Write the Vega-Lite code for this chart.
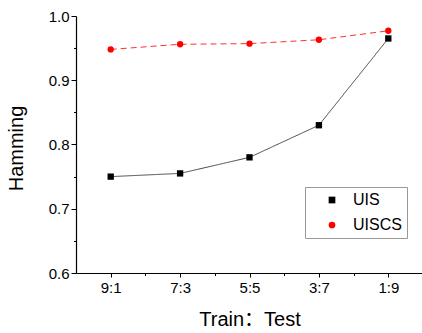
{
  "$schema": "https://vega.github.io/schema/vega-lite/v6.json",
  "width": 347,
  "height": 257,
  "autosize": "none",
  "padding": {"left": 76, "top": 16, "right": 0, "bottom": 60},
  "background": "white",
  "config": {
    "view": {"stroke": null},
    "font": "Liberation Sans, Arial, Noto Sans CJK SC",
    "axis": {"labelFont": "Liberation Sans", "titleFont": "Liberation Sans, Noto Sans CJK SC", "domainColor": "#000", "tickColor": "#000", "labelColor": "#000", "titleColor": "#000", "grid": false, "titleFontWeight": "normal"}
  },
  "data": {
    "values": [
      {"pos": 0, "ratio": "9:1", "series": "UIS", "hamming": 0.750},
      {"pos": 1, "ratio": "7:3", "series": "UIS", "hamming": 0.755},
      {"pos": 2, "ratio": "5:5", "series": "UIS", "hamming": 0.780},
      {"pos": 3, "ratio": "3:7", "series": "UIS", "hamming": 0.830},
      {"pos": 4, "ratio": "1:9", "series": "UIS", "hamming": 0.965},
      {"pos": 0, "ratio": "9:1", "series": "UISCS", "hamming": 0.948},
      {"pos": 1, "ratio": "7:3", "series": "UISCS", "hamming": 0.956},
      {"pos": 2, "ratio": "5:5", "series": "UISCS", "hamming": 0.957},
      {"pos": 3, "ratio": "3:7", "series": "UISCS", "hamming": 0.963},
      {"pos": 4, "ratio": "1:9", "series": "UISCS", "hamming": 0.977}
    ]
  },
  "resolve": {"axis": {"x": "independent", "y": "independent"}},
  "layer": [
    {
      "mark": {"type": "line", "strokeWidth": 1},
      "encoding": {
        "x": {"field": "pos", "type": "quantitative", "scale": {"domain": [-0.5, 4.5], "nice": false, "zero": false},
          "axis": {"orient": "bottom", "values": [0, 1, 2, 3, 4], "labelExpr": "['9:1','7:3','5:5','3:7','1:9'][datum.value]", "labelFontSize": 15, "labelPadding": 3, "tickSize": 4, "domainWidth": 1.2, "title": "Train：Test", "titleFontSize": 20, "titleX": 173.5, "titleY": 52, "titleBaseline": "alphabetic", "titleAlign": "center"}},
        "y": {"field": "hamming", "type": "quantitative", "scale": {"domain": [0.6, 1.0], "nice": false, "zero": false},
          "axis": {"orient": "left", "values": [0.6, 0.7, 0.8, 0.9, 1.0], "format": ".1f", "labelFontSize": 15, "labelPadding": 2, "tickSize": 5, "domainWidth": 1.2, "title": "Hamming", "titleFontSize": 20, "titleAngle": -90, "titleX": -54, "titleY": 132, "titleBaseline": "alphabetic", "titleAlign": "center"}},
        "stroke": {"field": "series", "type": "nominal", "scale": {"domain": ["UIS", "UISCS"], "range": ["#444444", "#ff3030"]},
          "legend": {"title": null, "orient": "none", "legendX": 229, "legendY": 171, "strokeColor": "#999", "fillColor": "white", "padding": 5, "labelFontSize": 16, "labelFont": "Liberation Sans", "labelColor": "#000", "symbolSize": 45, "symbolStrokeWidth": 0, "symbolOffset": 14, "labelOffset": 13, "rowPadding": 9}},
        "strokeDash": {"field": "series", "type": "nominal", "scale": {"domain": ["UIS", "UISCS"], "range": [[1, 0], [6, 4]]}}
      }
    },
    {
      "mark": {"type": "point", "filled": true, "opacity": 1, "size": 40, "strokeWidth": 0},
      "encoding": {
        "x": {"field": "pos", "type": "quantitative", "scale": {"domain": [-0.5, 4.5], "nice": false, "zero": false},
          "axis": {"orient": "bottom", "values": [0.5, 1.5, 2.5, 3.5], "labels": false, "domain": false, "tickSize": 2.5, "title": null}},
        "y": {"field": "hamming", "type": "quantitative", "scale": {"domain": [0.6, 1.0], "nice": false, "zero": false},
          "axis": {"orient": "left", "values": [0.65, 0.75, 0.85, 0.95], "labels": false, "domain": false, "tickSize": 2.5, "title": null}},
        "fill": {"field": "series", "type": "nominal", "scale": {"domain": ["UIS", "UISCS"], "range": ["#000000", "#ff0000"]}},
        "shape": {"field": "series", "type": "nominal", "scale": {"domain": ["UIS", "UISCS"], "range": ["square", "circle"]}}
      }
    }
  ]
}
